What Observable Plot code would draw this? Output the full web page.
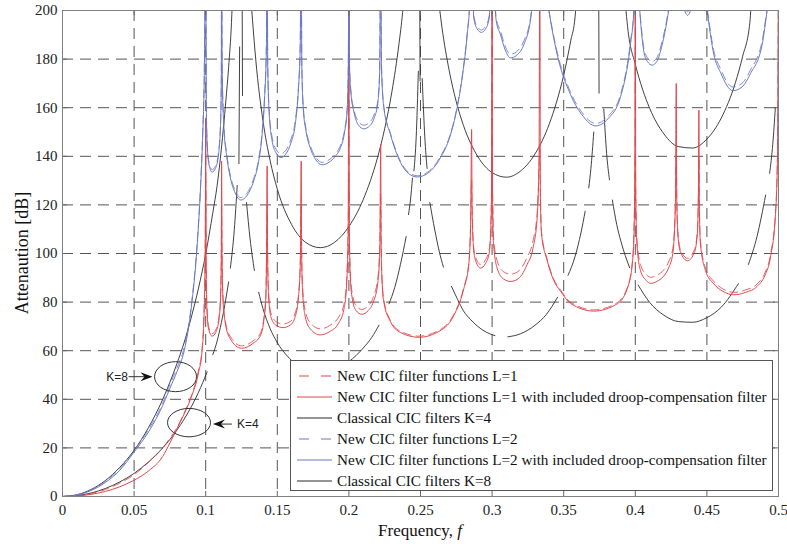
<!DOCTYPE html>
<html><head><meta charset="utf-8">
<script src="https://cdn.jsdelivr.net/npm/d3@7"></script>
<script src="https://cdn.jsdelivr.net/npm/@observablehq/plot@0.6"></script>
<style>body{margin:0;background:#fff;} svg{display:block;}</style>
</head><body><div id="chart"></div>
<script>
// ---- tick values and labels ----
const xTicks = [0, 0.05, 0.1, 0.15, 0.2, 0.25, 0.3, 0.35, 0.4, 0.45, 0.5];
const xTickLabels = ["0", "0.05", "0.1", "0.15", "0.2", "0.25", "0.3", "0.35", "0.4", "0.45", "0.5"];
const yTicks = [0, 20, 40, 60, 80, 100, 120, 140, 160, 180, 200];
const legendLabels = [
  "New CIC filter functions L=1",
  "New CIC filter functions L=1 with included droop-compensation filter",
  "Classical CIC filters K=4",
  "New CIC filter functions L=2",
  "New CIC filter functions L=2 with included droop-compensation filter",
  "Classical CIC filters K=8"
];

// ---- series: [frequency, attenuation dB]; null = gap ----
const redSolid = [
  [0,0],[0.01,0.2],[0.02,0.9],[0.03,2.1],[0.04,4],[0.05,6.7],[0.06,10.5],[0.07,16.5],[0.075,22],[0.08,28],[0.085,34],[0.09,41],[0.095,51],[0.0975,60],[0.099,78],[0.0997,105],[0.1,155],
  [0.1003,95],[0.1008,78],[0.102,69],[0.1045,66],[0.107,67.5],[0.1093,73],[0.1104,82],[0.1109,100],[0.1111,138],
  [0.1114,100],[0.112,82],[0.1135,72],[0.117,65],[0.125,61],[0.133,63],[0.138,66],[0.1405,72],[0.142,82],[0.1425,100],[0.1429,136],
  [0.1432,100],[0.1438,84],[0.1455,74],[0.149,70.5],[0.154,69.5],[0.159,70.5],[0.1625,74],[0.1648,82],[0.1661,97],[0.1667,138],
  [0.167,100],[0.1677,84],[0.1695,74],[0.173,69],[0.18,66.5],[0.187,68],[0.1925,71],[0.1965,77],[0.1985,88],[0.1995,110],[0.2,230],
  [0.2003,110],[0.201,90],[0.2025,81],[0.205,76.5],[0.209,75],[0.2135,76.5],[0.217,80],[0.2202,88],[0.2216,102],[0.2222,145],
  [0.2225,105],[0.2232,88],[0.2244,80],[0.229,72],[0.236,67.5],[0.249,65.5],[0.2615,67.5],[0.2733,74.5],[0.28,85],[0.2838,96],[0.285,112],[0.2857,151],
  [0.286,120],[0.2868,104],[0.288,98],[0.2919,94],[0.2955,96],[0.2982,101],[0.2995,120],[0.3,230],
  [0.3003,125],[0.301,104],[0.3035,94],[0.308,89.5],[0.313,88.5],[0.319,90],[0.3245,95.5],[0.3285,102],[0.3315,115],[0.3328,140],[0.3333,230],
  [0.3337,125],[0.3345,108],[0.3385,97],[0.343,89],[0.3478,84.5],[0.3547,79.5],[0.371,76.3],[0.3874,79.3],[0.3955,87.5],[0.3985,100],[0.3996,125],[0.4,230],
  [0.4003,125],[0.401,105],[0.4036,93],[0.4075,89],[0.4108,87.7],[0.415,88.5],[0.4195,90.5],[0.4232,94],[0.4262,100],[0.428,120],[0.4286,170],
  [0.4289,125],[0.4297,108],[0.4316,100.5],[0.4365,97],[0.4413,100.5],[0.4433,108],[0.4441,125],[0.4444,159],
  [0.4447,120],[0.4455,104],[0.449,93],[0.4548,87.5],[0.461,84.5],[0.4688,83],[0.477,84],[0.4851,86.5],[0.4905,91],[0.4944,98.5],[0.4979,116],[0.4993,140],[0.5,230]
];
const redDashed = [
  [0,0],[0.01,0.3],[0.02,1.2],[0.03,2.9],[0.04,5.5],[0.05,9],[0.06,14],[0.07,20],[0.075,24],[0.08,28.5],[0.085,34.5],[0.09,41.5],[0.095,52],[0.0975,61],[0.099,80],[0.0997,105],[0.1,130],
  [0.1003,97],[0.1008,80],[0.102,70],[0.1045,67],[0.107,68.5],[0.1093,74],[0.1104,83],[0.1109,100],[0.1111,120],
  [0.1114,100],[0.112,83],[0.1135,73],[0.117,66],[0.125,62],[0.133,64],[0.138,67],[0.1405,73],[0.142,83],[0.1425,100],[0.1429,120],
  [0.1432,101],[0.1438,85],[0.1455,75.5],[0.149,72],[0.154,71],[0.159,72],[0.1625,75.5],[0.1648,83],[0.1661,98],[0.1667,120],
  [0.167,101],[0.1677,86],[0.1695,76.5],[0.173,71.5],[0.18,69],[0.187,70.5],[0.1925,73.5],[0.1965,79],[0.1985,90],[0.1995,111],[0.2,130],
  [0.2003,111],[0.201,92],[0.2025,83],[0.205,78.5],[0.209,77],[0.2135,78.5],[0.217,82],[0.2202,90],[0.2216,104],[0.2222,125],
  [0.2225,106],[0.2232,89],[0.2244,81],[0.229,72.5],[0.236,68],[0.249,66],[0.2615,68],[0.2733,75],[0.28,85.5],[0.2838,96.5],[0.285,112.5],[0.2857,130],
  [0.286,121],[0.2868,105],[0.288,99.5],[0.2919,95.5],[0.2955,97.5],[0.2982,102.5],[0.2995,121],[0.3,140],
  [0.3003,127],[0.301,107],[0.3035,97],[0.308,92.5],[0.313,91.5],[0.319,93],[0.3245,98.5],[0.3285,105],[0.3315,117],[0.3328,135],[0.3333,145],
  [0.3337,126],[0.3345,109],[0.3385,97.5],[0.343,89.5],[0.3478,85],[0.3547,80],[0.371,76.8],[0.3874,79.8],[0.3955,88],[0.3985,100.5],[0.3996,125],[0.4,140],
  [0.4003,126],[0.401,107],[0.4036,95.5],[0.4075,91.5],[0.4108,90.2],[0.415,91],[0.4195,93],[0.4232,96.5],[0.4262,102],[0.428,121],[0.4286,140],
  [0.4289,126],[0.4297,109],[0.4316,101.5],[0.4365,98],[0.4413,101.5],[0.4433,109],[0.4441,126],[0.4444,140],
  [0.4447,121],[0.4455,105],[0.449,94],[0.4548,88.5],[0.461,85.5],[0.4688,84],[0.477,85],[0.4851,87.5],[0.4905,92],[0.4944,99.5],[0.4979,117],[0.4993,141],[0.5,230]
];
const blueSolid = [
  [0,0],[0.01,0.6],[0.02,2.5],[0.03,5.8],[0.04,10.8],[0.05,18.3],[0.06,26.5],[0.07,37.5],[0.075,44.5],[0.08,51.5],[0.085,60],[0.09,78],[0.094,103],[0.0964,127],[0.098,150],[0.099,172],[0.1,230],
  [0.1004,160],[0.1012,143],[0.1025,136],[0.1045,133.5],[0.1068,135],[0.109,141],[0.1103,152],[0.1109,170],[0.1111,230],
  [0.1115,175],[0.1127,152],[0.1147,140],[0.1173,131],[0.1205,125],[0.1245,122],[0.129,124],[0.1336,130],[0.137,138],[0.1394,149],[0.1412,165],[0.1424,185],[0.1429,230],
  [0.1433,178],[0.1443,158],[0.1462,147],[0.149,141.5],[0.1525,139.5],[0.156,141],[0.1595,145.5],[0.1625,153],[0.1648,168],[0.166,185],[0.1667,230],
  [0.1671,178],[0.1681,160],[0.17,150.5],[0.173,143.5],[0.177,138.5],[0.1813,136.5],[0.186,137.5],[0.1905,140],[0.1941,143.5],[0.197,150],[0.1988,159],[0.1996,177],[0.2,230],
  [0.2004,178],[0.2014,166],[0.2034,158.5],[0.2065,153],[0.2104,151.3],[0.2145,152.5],[0.2178,156],[0.2202,162],[0.2215,175],[0.2222,230],
  [0.2227,178],[0.2244,160],[0.229,149],[0.236,137.5],[0.2415,133],[0.2477,131.5],[0.255,133],[0.264,139.5],[0.2705,148],[0.2756,160],[0.2795,174],[0.2826,190],[0.2845,205],[0.2857,230],
  [0.2872,197],[0.2895,192.5],[0.2925,191],[0.2955,192.5],[0.298,197],[0.3,230],
  [0.3028,196],[0.3059,190],[0.309,184],[0.3128,180.5],[0.317,181.5],[0.3222,186],[0.3268,196],[0.3295,210],[0.3333,230],
  [0.337,210],[0.3396,200],[0.3454,182],[0.3547,165.5],[0.3635,156.5],[0.3722,152.5],[0.381,155.5],[0.3897,164.5],[0.3966,186],[0.399,200],[0.4,230],
  [0.4036,196],[0.406,183],[0.4085,179],[0.4118,177.5],[0.415,179],[0.4188,186],[0.4222,196],[0.4245,205],[0.4286,230],
  [0.433,204],[0.4365,198],[0.44,204],[0.4444,230],
  [0.4502,200],[0.4548,182],[0.4595,174.5],[0.4681,167],[0.4745,168.5],[0.4804,174],[0.4886,186],[0.4921,200],[0.5,230]
];
const blueDashed = [
  [0,0],[0.01,0.65],[0.02,2.7],[0.03,6.2],[0.04,11.4],[0.05,18.8],[0.06,27.5],[0.07,38.5],[0.075,46],[0.08,53],[0.085,61.5],[0.09,79],[0.094,104],[0.0964,128],[0.098,152],[0.099,174],[0.1,230],
  [0.1004,161],[0.1012,144],[0.1025,137],[0.1045,134.5],[0.1068,136],[0.109,142],[0.1103,153],[0.1109,171],[0.1111,230],
  [0.1115,176],[0.1127,153],[0.1147,141],[0.1173,132],[0.1205,126],[0.1245,123],[0.129,125],[0.1336,131],[0.137,139],[0.1394,150],[0.1412,166],[0.1424,186],[0.1429,230],
  [0.1433,179],[0.1443,159.5],[0.1462,148.5],[0.149,143],[0.1525,141],[0.156,142.5],[0.1595,147],[0.1625,154.5],[0.1648,169],[0.166,186],[0.1667,230],
  [0.1671,179],[0.1681,161],[0.17,151.5],[0.173,144.5],[0.177,139.5],[0.1813,137.5],[0.186,138.5],[0.1905,141],[0.1941,144.5],[0.197,151],[0.1988,160],[0.1996,178],[0.2,230],
  [0.2004,179],[0.2014,167],[0.2034,159.5],[0.2065,154.5],[0.2104,152.8],[0.2145,154],[0.2178,157.5],[0.2202,163],[0.2215,176],[0.2222,230],
  [0.2227,179],[0.2244,160.5],[0.229,149.5],[0.236,138],[0.2415,133.5],[0.2477,132],[0.255,133.5],[0.264,140],[0.2705,148.5],[0.2756,160.5],[0.2795,174.5],[0.2826,190.5],[0.2845,205.5],[0.2857,230],
  [0.2872,198],[0.2895,193.5],[0.2925,192],[0.2955,193.5],[0.298,198],[0.3,230],
  [0.3028,197],[0.3059,191.5],[0.309,185.5],[0.3128,182],[0.317,183],[0.3222,187.5],[0.3268,197],[0.3295,211],[0.3333,230],
  [0.337,210.5],[0.3396,200.5],[0.3454,183],[0.3547,166.5],[0.3635,157.5],[0.3722,153.5],[0.381,156.5],[0.3897,165.5],[0.3966,187],[0.399,200.5],[0.4,230],
  [0.4036,197],[0.406,184.5],[0.4085,180.5],[0.4118,179],[0.415,180.5],[0.4188,187.5],[0.4222,197],[0.4245,206],[0.4286,230],
  [0.433,205],[0.4365,199.5],[0.44,205],[0.4444,230],
  [0.4502,201],[0.4548,183.5],[0.4595,176],[0.4681,168.5],[0.4745,170],[0.4804,175.5],[0.4886,187.5],[0.4921,201],[0.5,230]
];
const classicK8 = [
  [0,0],[0.01,0.7],[0.02,2.9],[0.03,6.6],[0.04,12],[0.05,19],[0.06,28.3],[0.07,40],[0.08,54.8],[0.085,63.5],[0.09,73.9],[0.095,85.8],[0.1,99.8],[0.105,116.9],[0.108,128],[0.111,143.4],[0.114,162.3],[0.116,176.6],[0.118,195],[0.119,210],
  null,[0.1255,200],[0.1257,165],
  null,[0.131,210],[0.1327,196],[0.135,179.5],[0.14,154.6],[0.145,138.2],[0.15,126.5],[0.16,111.9],[0.17,104.5],[0.18,102.4],[0.19,104.6],[0.2,111.1],[0.21,122.2],[0.22,139.5],[0.225,151.4],[0.23,166.5],[0.235,186.4],[0.2375,199.2],[0.239,210],
  null,[0.2495,200],[0.2497,171],
  null,[0.2615,210],[0.265,193],[0.27,175.4],[0.275,162.4],[0.28,152.7],[0.29,139.9],[0.3,133.3],[0.31,131.4],[0.32,134],[0.33,141],[0.34,153.4],[0.345,162.3],[0.35,173.4],[0.355,187.8],[0.358,197.7],[0.3595,210],
  null,[0.3745,200],[0.3747,166],
  null,[0.392,210],[0.395,191.4],[0.4,177.9],[0.405,167.7],[0.41,159.8],[0.42,149.2],[0.43,144],[0.44,143.4],[0.45,147.1],[0.46,155.7],[0.47,170.5],[0.475,181.2],[0.48,195.1],[0.4815,210]
];
const classicK4 = [
  [0,0],[0.01,0.35],[0.02,1.45],[0.03,3.3],[0.04,6],[0.05,9.5],[0.06,14.2],[0.07,20],[0.08,27.4],[0.09,37],[0.095,42.9],[0.101,51.3],
  null,[0.105,58.4],[0.108,64],[0.111,71.7],[0.114,81.1],[0.116,88.3],
  null,[0.1172,94],[0.12,110],[0.122,128],
  null,[0.1232,137],[0.1237,185],
  null,[0.1285,121],[0.131,106],[0.134,93],
  null,[0.137,84],[0.14,77.3],[0.145,69.1],[0.15,63.3],[0.157,57.8],[0.17,52.2],[0.18,51.2],[0.19,52.3],[0.2,55.5],[0.21,61.1],[0.216,65.5],[0.221,70.5],
  null,[0.228,79.3],[0.232,86],[0.236,95.5],[0.24,107],
  null,[0.2416,116],[0.243,122],[0.2444,131],
  null,[0.2454,134],[0.247,148],[0.2485,175],
  null,[0.2512,172],[0.253,148],[0.2546,135],
  null,[0.2565,121],[0.26,109.6],[0.263,101.1],[0.266,94.4],
  null,[0.2716,86.5],[0.276,81],[0.28,76.4],[0.285,72.8],[0.29,70],[0.296,67.6],[0.302,66.2],
  null,[0.311,65.7],[0.32,67],[0.33,70.5],[0.338,75],[0.3457,82],
  null,[0.353,91],[0.358,98.9],[0.362,108.4],[0.365,117.4],
  null,[0.3675,127],[0.369,135],[0.371,150],
  null,[0.378,159.5],[0.38,141],[0.382,130.3],
  null,[0.384,122],[0.387,112],[0.39,104.9],[0.396,94.2],
  null,[0.402,87],[0.41,79.9],[0.42,74.6],[0.43,72],[0.44,71.7],[0.45,73.6],[0.46,77.9],[0.472,87.6],
  null,[0.479,95.5],[0.485,107],[0.491,124],
  null,[0.4938,133],[0.496,145],[0.4978,160]
];

function toRows(arr) {
  let seg = 0; const rows = [];
  for (const p of arr) { if (p === null) { seg++; continue; } rows.push({f: p[0], v: p[1], seg}); }
  return rows;
}

const SERIF = "'Liberation Serif', 'Times New Roman', serif";
const RED = "#e2474d", BLUE = "#6a78c6", BLACK = "#2b2b2b", GRID = "#555";
const lineOpts = (stroke, extra = {}) => ({x: "f", y: "v", z: "seg", stroke, strokeWidth: 1, curve: "monotone-x", clip: true, ...extra});

const chart = Plot.plot({
  width: 787, height: 544,
  marginLeft: 62, marginRight: 9, marginTop: 10, marginBottom: 48,
  style: {fontFamily: SERIF, fontSize: "15px", color: "#222", background: "white", overflow: "visible"},
  x: {domain: [0, 0.5]},
  y: {domain: [0, 200]},
  marks: [
    Plot.gridX(xTicks.slice(1, -1), {stroke: GRID, strokeOpacity: 1, strokeDasharray: "11,7"}),
    Plot.gridY(yTicks.slice(1, -1), {stroke: GRID, strokeOpacity: 1, strokeDasharray: "11,7"}),
    Plot.line(toRows(classicK4), lineOpts(BLACK, {strokeWidth: 0.9})),
    Plot.line(toRows(classicK8), lineOpts(BLACK, {strokeWidth: 0.9})),
    Plot.line(toRows(redDashed), lineOpts(RED, {strokeDasharray: "8,5", strokeOpacity: 0.85})),
    Plot.line(toRows(redSolid), lineOpts(RED)),
    Plot.line(toRows(blueDashed), lineOpts(BLUE, {strokeDasharray: "8,5", strokeOpacity: 0.85})),
    Plot.line(toRows(blueSolid), lineOpts(BLUE)),
    Plot.ruleX(xTicks, {x: d => d, y1: 0, y2: 2.1, stroke: "#666"}),
    Plot.ruleX(xTicks, {x: d => d, y1: 197.9, y2: 200, stroke: "#666"}),
    Plot.ruleY(yTicks, {y: d => d, x1: 0, x2: 0.0035, stroke: "#666"}),
    Plot.ruleY(yTicks, {y: d => d, x1: 0.4965, x2: 0.5, stroke: "#666"}),
    Plot.frame({stroke: "#808080"}),
    Plot.axisX(xTicks, {tickSize: 0, tickPadding: 8, tickFormat: d => xTickLabels[xTicks.indexOf(d)], label: null}),
    Plot.axisY(yTicks, {tickSize: 0, tickPadding: 5, label: null})
  ]
});
document.getElementById("chart").append(chart);

// ---- decorations: axis titles, annotations, legend ----
const svg = d3.select(chart);
const sx = chart.scale("x"), sy = chart.scale("y");
const X = v => sx.apply(v), Y = v => sy.apply(v);

svg.append("text").attr("transform", `translate(${22},${Y(100)}) rotate(-90)`)
  .attr("text-anchor", "middle").attr("dy", "0.35em")
  .style("font-family", SERIF).style("font-size", "18px").attr("fill", "#111")
  .text("Attenaution [dB]");
const xt = svg.append("text").attr("x", X(0.25)).attr("y", 536).attr("text-anchor", "middle")
  .style("font-family", SERIF).style("font-size", "17px").attr("fill", "#111");
xt.append("tspan").text("Frequency, ");
xt.append("tspan").style("font-style", "italic").text("f");

// annotations (K=8, K=4)
const ann = svg.append("g").attr("stroke", "#333").attr("fill", "none");
ann.append("ellipse").attr("cx", X(0.0793)).attr("cy", Y(49.1)).attr("rx", 21).attr("ry", 15);
ann.append("ellipse").attr("cx", X(0.0887)).attr("cy", Y(30.2)).attr("rx", 21.5).attr("ry", 14.2);
function arrow(xFrom, xTo, yv) {
  const y = Y(yv), x1 = X(xFrom), x2 = X(xTo), dir = Math.sign(x2 - x1);
  ann.append("line").attr("x1", x1).attr("y1", y).attr("x2", x2 - dir * 6).attr("y2", y);
  ann.append("path").attr("fill", "#111").attr("stroke", "none")
    .attr("d", `M${x2},${y} L${x2 - dir * 12},${y - 4.5} L${x2 - dir * 8},${y} L${x2 - dir * 12},${y + 4.5} Z`);
}
arrow(0.0465, 0.0632, 49.1);
arrow(0.1187, 0.1054, 29.6);
svg.append("text").attr("x", X(0.0461)).attr("y", Y(49.1)).attr("dy", "0.35em").attr("text-anchor", "end")
  .style("font-family", "'Liberation Sans', Arial, sans-serif").style("font-size", "12px").attr("fill", "#222").text("K=8");
svg.append("text").attr("x", X(0.1222)).attr("y", Y(29.6)).attr("dy", "0.35em").attr("text-anchor", "start")
  .style("font-family", "'Liberation Sans', Arial, sans-serif").style("font-size", "12px").attr("fill", "#222").text("K=4");

// legend
const lg = svg.append("g");
lg.append("rect").attr("x", 290.5).attr("y", 360.5).attr("width", 482).attr("height", 130)
  .attr("fill", "white").attr("stroke", "#555");
const legendStyles = [
  {stroke: RED, dash: "8,5"}, {stroke: RED, dash: null}, {stroke: BLACK, dash: null},
  {stroke: BLUE, dash: "8,5"}, {stroke: BLUE, dash: null}, {stroke: BLACK, dash: null}
];
legendLabels.forEach((t, i) => {
  const y = 376 + i * 21;
  const s = legendStyles[i];
  const l = lg.append("line").attr("x1", 297).attr("x2", 332).attr("y1", y).attr("y2", y)
    .attr("stroke", s.stroke).attr("stroke-width", 1);
  if (s.dash) l.attr("stroke-dasharray", "10,12").attr("stroke-dashoffset", -2);
  lg.append("text").attr("x", 337).attr("y", y).attr("dy", "0.35em").attr("text-anchor", "start")
    .style("font-family", SERIF).style("font-size", "15.2px").attr("fill", "#111").text(t);
});
</script></body></html>
